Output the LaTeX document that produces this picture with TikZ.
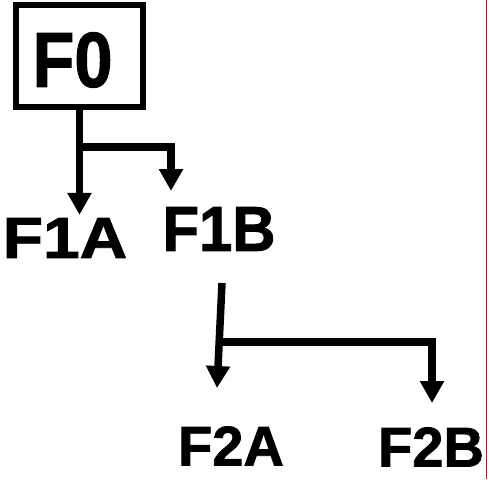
\documentclass[tikz,border=0pt]{standalone}
\usepackage{fontspec}
\setmainfont{Liberation Sans}
\usetikzlibrary{arrows.meta}
\begin{document}
\begin{tikzpicture}[x=1pt,y=-1pt]
			% Styles
			\tikzstyle{fleche}=[-{Triangle[width=23pt,length=22pt]},line width=7.5pt,line join=miter]
			\tikzstyle{cadre}=[draw,line width=6pt,minimum width=127pt,minimum height=102pt,inner sep=0pt]
			\tikzstyle{niveau0}=[font=\bfseries\fontsize{78}{82}\selectfont\addfontfeature{FakeBold=1.5}]
			\tikzstyle{niveau1}=[inner sep=3pt,font=\bfseries\fontsize{61}{64}\selectfont\addfontfeature{FakeBold=1.5}]
			\tikzstyle{niveau2}=[inner sep=3pt,font=\bfseries\fontsize{56}{60}\selectfont\addfontfeature{FakeBold=1.5}]
			\useasboundingbox (0,0) rectangle (489,479);
			% Noeuds
			\node[cadre,niveau0] (F0) at (79.5,56) {\raisebox{-4pt}[\height][\depth]{\hspace*{-14pt}\scalebox{0.88}[1]{F0}}};
			\node[niveau1] (F1A) at (65,238) {\scalebox{1.08}[0.95]{F1A}};
			\node[niveau1] (F1B) at (219,229) {\scalebox{0.98}[1.04]{F1B}};
			\node[niveau2] (F2A) at (231,446) {F2A};
			\node[niveau2] (F2B) at (431,447) {F2B};
			% Points de passage
			\coordinate (J1) at (79.5,147);
			\coordinate (P1B) at (171,191);
			\coordinate (D2) at (222,283);
			\coordinate (P2A) at (217,388);
			\coordinate (J2) at (221,342);
			\coordinate (P2B) at (432,403);
			% Arcs
			\draw[fleche] (F0.south) -- (F0.south |- F1A.north);
			\draw[fleche] (J1) -| (P1B);
			\draw[fleche] (D2) -- (P2A);
			\draw[fleche] (J2) -| (P2B);
			% Trait rouge
			\draw[red!90!black,line width=1.2pt] (486.6,0) -- (486.6,479);
\end{tikzpicture}
\end{document}
